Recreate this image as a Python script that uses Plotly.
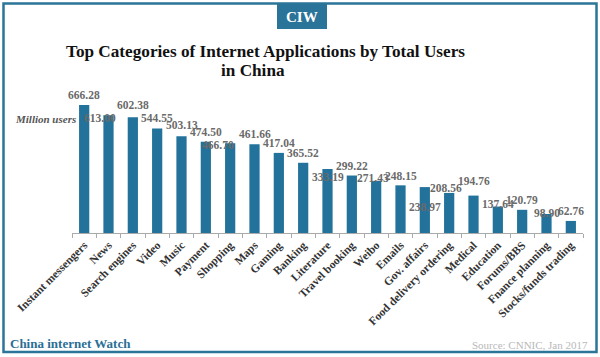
import plotly.graph_objects as go

categories = ["Instant messengers", "News", "Search engines", "Video", "Music", "Payment",
              "Shopping", "Maps", "Gaming", "Banking", "Literature", "Travel booking",
              "Weibo", "Emails", "Gov. affairs", "Food delivery ordering", "Medical",
              "Education", "Forums/BBS", "Fnance planning", "Stocks/funds trading"]
users = [666.28, 613.00, 602.38, 544.55, 503.13, 474.50, 466.70, 461.66, 417.04, 365.52,
         333.19, 299.22, 271.43, 248.15, 238.97, 208.56, 194.76, 137.64, 120.79, 98.90, 62.76]
value_labels = ["666.28", "613.00", "602.38", "544.55", "503.13", "474.50", "466.70", "461.66",
                "417.04", "365.52", "333.19", "299.22", "271.43", "248.15", "238.97", "208.56",
                "194.76", "137.64", "120.79", "98.90", "62.76"]

# label placement offsets (pixels, centre of label relative to bar top; +dy = down)
label_dx = [0, -9, 0, 0, 0, 0, -12, 0, 0, 0, 0, 0, -3, 0, 0, -3, 0, 0, 0, 0, 0]
label_dy = [-10, 3, -12, -10, -11, -10, 2, -10, -10, -10, 8, -9.5, -3, -9, 20, -5, -14.5, -3, -10, -1, -9.5]

W, H = 600, 357
L, R, T, B = 72, 17, 80, 124
BLUE = "#22729b"
SERIF = "Liberation Serif, Times New Roman, serif"


def px(x):
    return (x - L) / (W - L - R)


def py(y):
    return (H - B - y) / (H - T - B)


fig = go.Figure()
fig.add_trace(go.Bar(x=categories, y=users, marker=dict(color=BLUE, line=dict(width=0)),
                     width=0.42, hoverinfo="skip"))

ann = []
for c, v, t, dx, dy in zip(categories, users, value_labels, label_dx, label_dy):
    ann.append(dict(x=c, y=v, xref="x", yref="y", text=t, showarrow=False,
                    xanchor="center", yanchor="middle", xshift=dx, yshift=-dy,
                    font=dict(family=SERIF, size=11.5, color="#6a6a6a", weight="bold")))

# title lines
ann.append(dict(x=px(265.5), y=py(51), xref="paper", yref="paper", showarrow=False,
                text="Top Categories of Internet Applications by Total Users",
                xanchor="center", yanchor="middle",
                font=dict(family=SERIF, size=17.2, color="#111111", weight="bold")))
ann.append(dict(x=px(253), y=py(70), xref="paper", yref="paper", showarrow=False,
                text="in China", xanchor="center", yanchor="middle",
                font=dict(family=SERIF, size=17.2, color="#111111", weight="bold")))
# CIW badge text
ann.append(dict(x=px(302), y=py(17), xref="paper", yref="paper", showarrow=False,
                text="CIW", xanchor="center", yanchor="middle",
                font=dict(family=SERIF, size=15, color="white", weight="bold")))
# unit label
ann.append(dict(x=px(13), y=py(119), xref="paper", yref="paper", showarrow=False,
                text="<i>Million users</i>", xanchor="left", yanchor="middle",
                font=dict(family=SERIF, size=11, color="#555555", weight="bold")))
# footer
ann.append(dict(x=px(8), y=py(343), xref="paper", yref="paper", showarrow=False,
                text="China internet Watch", xanchor="left", yanchor="middle",
                font=dict(family=SERIF, size=13, color="#2a6f95", weight="bold")))
ann.append(dict(x=px(590), y=py(345), xref="paper", yref="paper", showarrow=False,
                text="Source: CNNIC, Jan 2017", xanchor="right", yanchor="middle",
                font=dict(family=SERIF, size=11, color="#b8b8b8")))

shapes = [
    dict(type="rect", xref="paper", yref="paper", x0=px(3.5), x1=px(596.5), y0=py(3.5), y1=py(352),
         line=dict(color="#2b7599", width=2.5), fillcolor="rgba(0,0,0,0)", layer="below"),
    dict(type="rect", xref="paper", yref="paper", x0=px(277), x1=px(327), y0=py(4), y1=py(29),
         line=dict(width=0), fillcolor="#2a7399", layer="below"),
]

fig.update_layout(
    width=W, height=H, margin=dict(l=L, r=R, t=T, b=B, pad=0),
    paper_bgcolor="white", plot_bgcolor="white", showlegend=False,
    bargap=0.58, annotations=ann, shapes=shapes,
    xaxis=dict(tickangle=-45, tickfont=dict(family=SERIF, size=11.5, color="#333333", weight="bold"),
               range=[-0.5, len(categories) - 0.5], autorange=False,
               showline=True, linecolor="#aaaaaa", linewidth=1, ticks="outside", tickson="boundaries",
               tickcolor="#aaaaaa", ticklen=4, showgrid=False, fixedrange=True),
    yaxis=dict(range=[0, (H - T - B) / 0.1921], visible=False, showgrid=False, fixedrange=True),
)

fig.write_html("out.html", config={"displayModeBar": False},
               post_script="document.body.style.margin='0';document.body.style.overflow='hidden';")
